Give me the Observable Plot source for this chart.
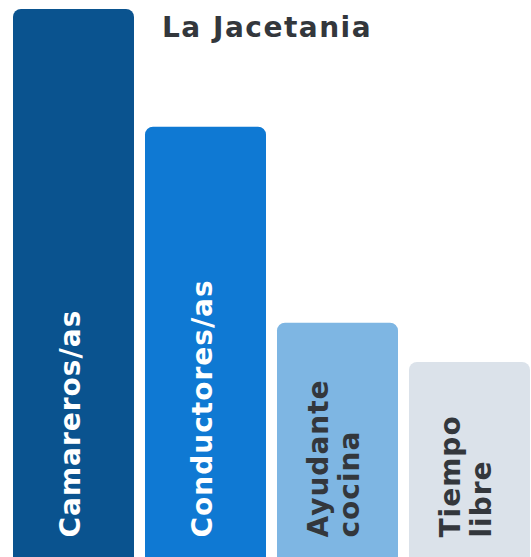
<!DOCTYPE html>
<html>
<head>
<meta charset="utf-8">
<script src="https://cdn.jsdelivr.net/npm/d3@7"></script>
<script src="https://cdn.jsdelivr.net/npm/@observablehq/plot@0.6"></script>
<style>
  html, body { margin: 0; padding: 0; background: #fff; overflow: hidden; }
  #wrap { position: relative; width: 531px; height: 557px; overflow: hidden; }
  #title { position: absolute; left: 162px; top: 11px; margin: 0;
    font-family: "DejaVu Sans", sans-serif; font-weight: bold; font-size: 28px; line-height: 34px;
    color: #33373c; letter-spacing: 1.5px; white-space: nowrap; z-index: 2; }
  #wrap svg { overflow: hidden; }
  #wrap svg text { letter-spacing: 1px; }
</style>
</head>
<body>
<div id="wrap"><div id="title">La Jacetania</div></div>
<script>
const categories = ["Camareros/as", "Conductores/as", "Ayudante cocina", "Tiempo libre"];
const labels = ["Camareros/as", "Conductores/as", "Ayudante\ncocina", "Tiempo\nlibre"];
const values = [35, 27.5, 15, 12.5];
const colors = ["#0a538f", "#0f79d3", "#7eb6e3", "#dbe2ea"];
const labelColors = ["#ffffff", "#ffffff", "#33373c", "#33373c"];

const data = categories.map((c, i) => ({cat: c, value: values[i], label: labels[i], fill: colors[i], ink: labelColors[i]}));

const chart = Plot.plot({
  width: 531,
  height: 557,
  marginTop: 0, marginRight: 0, marginBottom: 0, marginLeft: 0,
  x: {domain: categories, range: [12, 532], paddingInner: 0.083, paddingOuter: 0, axis: null},
  y: {domain: [0, 35], range: [558, 9], axis: null},
  style: {fontFamily: "DejaVu Sans, sans-serif"},
  marks: [
    Plot.barY(data, {x: "cat", y: "value", fill: d => d.fill, rx: 8, insetBottom: -20}),
    Plot.text(data, {
      x: "cat", text: "label", fill: d => d.ink,
      frameAnchor: "bottom", rotate: -90, textAnchor: "start", lineAnchor: "middle",
      dy: -20, dx: -4, fontSize: 28, fontWeight: "bold", lineHeight: 1.1
    })
  ]
});
document.getElementById("wrap").appendChild(chart);
</script>
</body>
</html>
